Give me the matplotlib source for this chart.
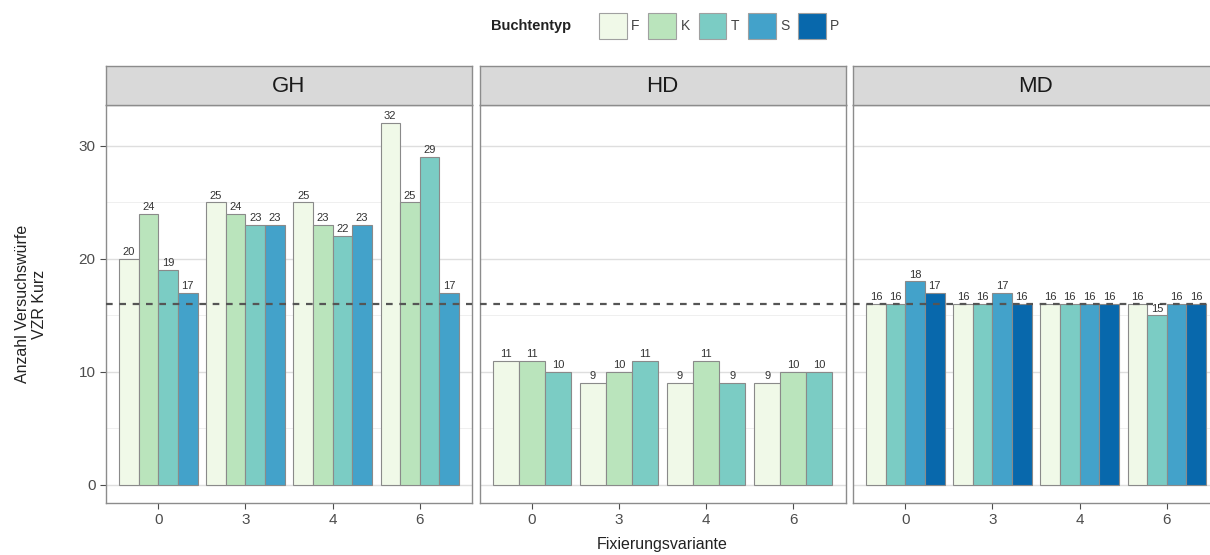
import numpy as np
import matplotlib
matplotlib.use("Agg")
import matplotlib.pyplot as plt
from matplotlib.patches import Patch

plt.rcParams["font.family"] = ["Liberation Sans", "DejaVu Sans"]

# Fixierungsvariante on the x axis, one facet per Versuchsgruppe
variants = ["0", "3", "4", "6"]
facets = ["GH", "HD", "MD"]

types_all = ["F", "K", "T", "S", "P"]
type_colors = ["#f0f9e8", "#bae4bc", "#7bccc4", "#43a2ca", "#0868ac"]

gh_types = ["F", "K", "T", "S"]
gh_counts = [[20, 24, 19, 17], [25, 24, 23, 23], [25, 23, 22, 23], [32, 25, 29, 17]]

hd_types = ["F", "K", "T"]
hd_counts = [[11, 11, 10], [9, 10, 11], [9, 11, 9], [9, 10, 10]]

md_types = ["F", "T", "S", "P"]
md_counts = [[16, 16, 18, 17], [16, 16, 17, 16], [16, 16, 16, 16], [16, 15, 16, 16]]

ref_line = 16

panel_data = {
    "GH": (gh_types, gh_counts),
    "HD": (hd_types, hd_counts),
    "MD": (md_types, md_counts),
}

W, H = 1210, 555
fig = plt.figure(figsize=(W / 100, H / 100), dpi=100)

border = "#8c8c8c"
grid_col = "#dedede"
tick_col = "#4d4d4d"

panel_w = 366
panel_left = [106, 479.5, 853]
panel_top, panel_bot = 105, 503
strip_top = 66

for k, name in enumerate(facets):
    x0 = panel_left[k] / W
    ax = fig.add_axes([x0, (H - panel_bot) / H, panel_w / W, (panel_bot - panel_top) / H])
    types, counts = panel_data[name]
    counts = np.array(counts)
    n = len(types)
    w = 0.9 / n
    xs = np.arange(len(variants))
    for j, t in enumerate(types):
        col = type_colors[types_all.index(t)]
        pos = xs + (j - (n - 1) / 2) * w
        ax.bar(pos, counts[:, j], width=w, color=col, edgecolor="#8a8a8a",
               linewidth=0.8, zorder=2)
        for xp, v in zip(pos, counts[:, j]):
            ax.text(xp, v + 0.15, str(v), ha="center", va="bottom",
                    fontsize=8, color="#333333", zorder=4)

    ax.axhline(ref_line, color="#555555", linestyle=(0, (3, 3)), linewidth=1.6, zorder=3)

    ax.set_xlim(-0.6, 3.6)
    ax.set_ylim(-1.6, 33.6)
    ax.set_yticks([0, 10, 20, 30])
    ax.set_yticks([5, 15, 25], minor=True)
    ax.grid(axis="y", which="major", color=grid_col, linewidth=1.0, zorder=0)
    ax.grid(axis="y", which="minor", color="#ececec", linewidth=0.6, zorder=0)
    ax.set_axisbelow(True)
    ax.set_xticks(xs)
    ax.set_xticklabels(variants)
    ax.tick_params(axis="both", which="major", colors=tick_col, labelsize=11,
                   length=4, width=0.8)
    ax.tick_params(axis="y", which="minor", length=0)
    if k > 0:
        ax.tick_params(axis="y", left=False, labelleft=False)
    for sp in ax.spines.values():
        sp.set_color(border)
        sp.set_linewidth(1.0)

    sax = fig.add_axes([x0, (H - panel_top) / H, panel_w / W, (panel_top - strip_top) / H])
    sax.set_facecolor("#d9d9d9")
    sax.set_xticks([])
    sax.set_yticks([])
    for sp in sax.spines.values():
        sp.set_color(border)
        sp.set_linewidth(1.0)
    sax.text(0.5, 0.48, name, ha="center", va="center", fontsize=16,
             color="#1a1a1a", transform=sax.transAxes)

# axis titles
fig.text(662 / W, 1 - 545 / H, "Fixierungsvariante", ha="center", va="center",
         fontsize=11.5, color="#222222")
fig.text(31 / W, 1 - 304 / H, "Anzahl Versuchswürfe\nVZR Kurz", ha="center",
         va="center", rotation=90, fontsize=11.5, color="#222222", linespacing=1.1)

# legend on top
handles = [Patch(facecolor=c, edgecolor="#a0a0a0", linewidth=0.8) for c in type_colors]
fig.text(531 / W, 1 - 26 / H, "Buchtentyp", ha="center", va="center",
         fontsize=10.5, fontweight="bold", color="#222222")
fig.legend(handles, types_all, loc="center left", bbox_to_anchor=(599 / W, 1 - 26 / H),
           ncol=5, frameon=False, fontsize=10, handlelength=2.0, handleheight=2.6,
           handletextpad=0.3, columnspacing=0.65, borderaxespad=0, borderpad=0,
           labelcolor="#444444")

fig.savefig("out.png", dpi=100)
